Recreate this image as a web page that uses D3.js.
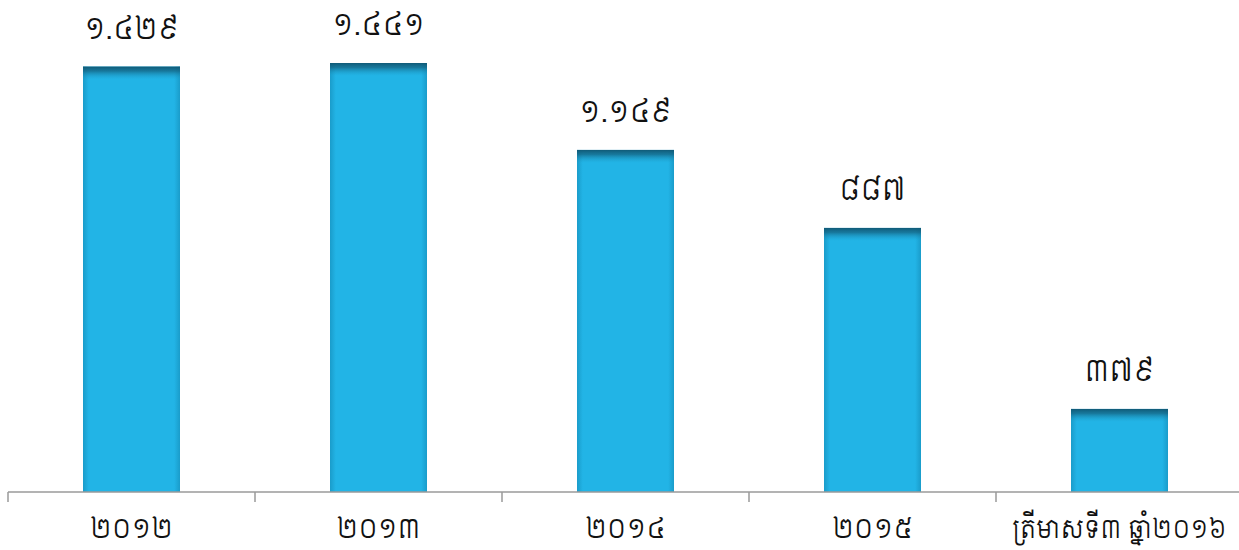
<!DOCTYPE html>
<html>
<head>
<meta charset="utf-8">
<script src="https://cdn.jsdelivr.net/npm/d3@7/dist/d3.min.js"></script>
<style>
  html, body { margin: 0; padding: 0; background: #fff; }
  svg { display: block; }
  text { font-family: "Siemreap", "Content", "Noto Sans Khmer", sans-serif; fill: #111; font-weight: 400; }
</style>
</head>
<body>
<svg id="chart" width="1239" height="550"></svg>
<script>
// Data
const categories = ["២០១២", "២០១៣", "២០១៤", "២០១៥", "ត្រីមាសទី៣ ឆ្នាំ២០១៦"];
const barValues = [1429, 1441, 1149, 887, 279];
const valueLabels = ["១.៤២៩", "១.៤៤១", "១.១៤៩", "៨៨៧", "៣៧៩"];

const svg = d3.select("#chart");
const W = 1239, H = 550;
const left = 8, baseY = 492;
const step = 247;
const pad = 1 - 97 / 247;

const x = d3.scaleBand()
  .domain(categories)
  .range([left, left + step * categories.length])
  .paddingInner(pad)
  .paddingOuter(pad / 2);

const y = d3.scaleLinear().domain([0, 1600]).range([baseY, baseY - 1600 * (429 / 1441)]);

const defs = svg.append("defs");
const gTop = defs.append("linearGradient").attr("id", "topShade")
  .attr("x1", 0).attr("y1", 0).attr("x2", 0).attr("y2", 1);
gTop.append("stop").attr("offset", "0%").attr("stop-color", "#0f5672").attr("stop-opacity", 0.95);
gTop.append("stop").attr("offset", "35%").attr("stop-color", "#135f7d").attr("stop-opacity", 0.7);
gTop.append("stop").attr("offset", "100%").attr("stop-color", "#1d9cc8").attr("stop-opacity", 0);

const gSide = defs.append("linearGradient").attr("id", "sideShade")
  .attr("x1", 0).attr("y1", 0).attr("x2", 1).attr("y2", 0);
gSide.append("stop").attr("offset", "0%").attr("stop-color", "#0b6f96").attr("stop-opacity", 0.35);
gSide.append("stop").attr("offset", "6%").attr("stop-color", "#0b6f96").attr("stop-opacity", 0);
gSide.append("stop").attr("offset", "94%").attr("stop-color", "#0b6f96").attr("stop-opacity", 0);
gSide.append("stop").attr("offset", "100%").attr("stop-color", "#0b6f96").attr("stop-opacity", 0.35);

const bars = svg.append("g").selectAll("g").data(categories).join("g");

bars.append("rect")
  .attr("x", d => x(d))
  .attr("y", (d, i) => y(barValues[i]))
  .attr("width", x.bandwidth())
  .attr("height", (d, i) => baseY - y(barValues[i]))
  .attr("fill", "#22b4e6");

bars.append("rect")
  .attr("x", d => x(d))
  .attr("y", (d, i) => y(barValues[i]))
  .attr("width", x.bandwidth())
  .attr("height", (d, i) => baseY - y(barValues[i]))
  .attr("fill", "url(#sideShade)");

bars.append("rect")
  .attr("x", d => x(d))
  .attr("y", (d, i) => y(barValues[i]))
  .attr("width", x.bandwidth())
  .attr("height", 13)
  .attr("fill", "url(#topShade)");

// value labels
bars.append("text")
  .attr("x", d => x(d) + x.bandwidth() / 2)
  .attr("y", (d, i) => y(barValues[i]) - 28)
  .attr("text-anchor", "middle")
  .attr("font-size", 28)
  .text((d, i) => valueLabels[i]);

// axis
const axisG = svg.append("g");
axisG.append("line")
  .attr("x1", left).attr("x2", W)
  .attr("y1", baseY).attr("y2", baseY)
  .attr("stroke", "#9a9a9a").attr("stroke-width", 1.5);

const boundaries = d3.range(categories.length + 1).map(i => x.range()[0] + i * x.step());
axisG.selectAll("line.tick").data(boundaries).join("line")
  .attr("class", "tick")
  .attr("x1", d => d).attr("x2", d => d)
  .attr("y1", baseY).attr("y2", baseY + 10)
  .attr("stroke", "#9a9a9a").attr("stroke-width", 1.5);

axisG.selectAll("text.cat").data(categories).join("text")
  .attr("class", "cat")
  .attr("x", d => x(d) + x.bandwidth() / 2)
  .attr("y", 538)
  .attr("text-anchor", "middle")
  .attr("font-size", (d, i) => i === categories.length - 1 ? 24 : 26)
  .text(d => d);
</script>
</body>
</html>
